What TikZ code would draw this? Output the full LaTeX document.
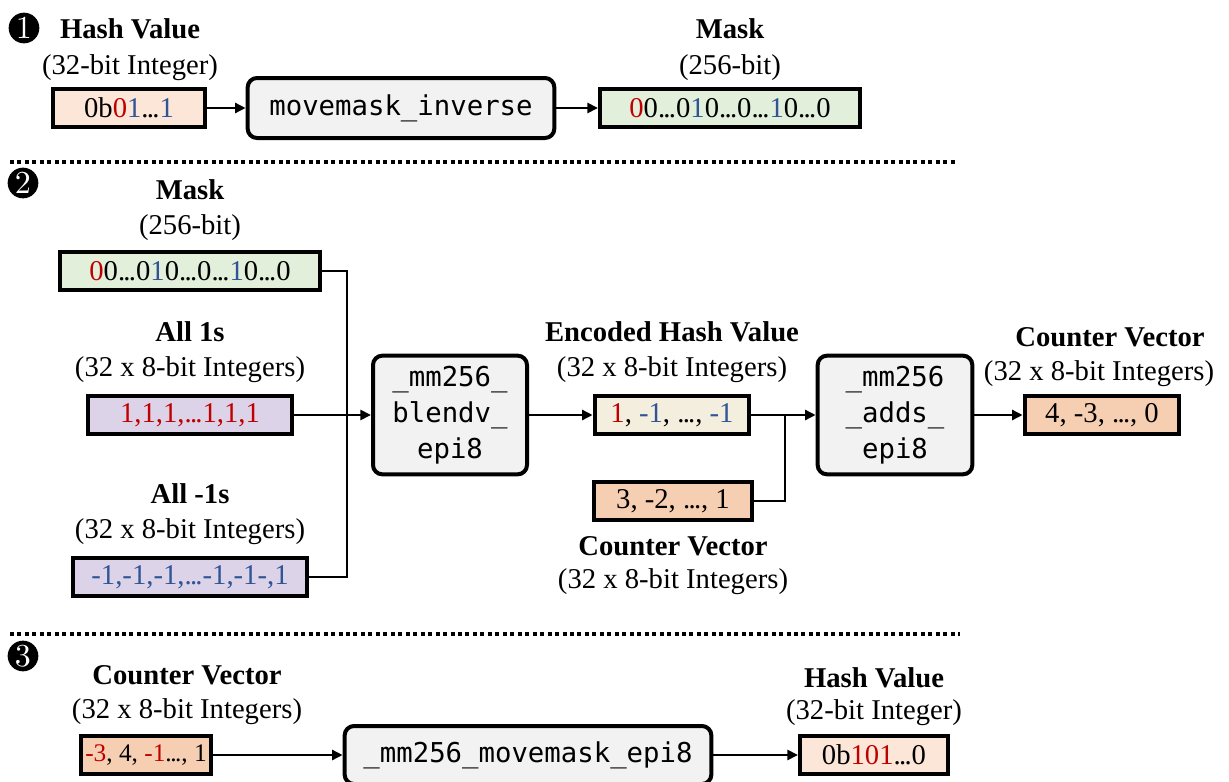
\documentclass[tikz,border=0pt]{standalone}
\usepackage{fontspec}
\setmainfont{Liberation Serif}
\setmonofont{DejaVu Sans Mono}
\newfontfamily\numfont{lmroman10-regular}[Extension=.otf]
\usetikzlibrary{arrows.meta}

\definecolor{bitred}{HTML}{C00000}
\definecolor{bitblue}{HTML}{2F5597}
\definecolor{hashfill}{HTML}{FCE6D8}
\definecolor{maskfill}{HTML}{E2EFDA}
\definecolor{constfill}{HTML}{DDD3E8}
\definecolor{encfill}{HTML}{F3EEDD}
\definecolor{cntfill}{HTML}{F6CFB3}
\definecolor{opfill}{HTML}{F2F2F2}

\newcommand{\rd}[1]{\textcolor{bitred}{#1}}
\newcommand{\bl}[1]{\textcolor{bitblue}{#1}}
% tight ellipsis
\newcommand{\dts}{.\kern-0.06em.\kern-0.06em.}

\tikzset{
    databox/.style={draw, line width=3pt, minimum height=28.5pt, inner sep=0pt, font=\fontsize{21.5}{26}\selectfont},
    hashbox/.style={databox, fill=hashfill},
    maskbox/.style={databox, fill=maskfill},
    constbox/.style={databox, fill=constfill},
    encbox/.style={databox, fill=encfill},
    cntbox/.style={databox, fill=cntfill},
    % SIMD operations
    opbox/.style={draw, line width=3pt, rounded corners=7pt, fill=opfill, align=center, inner sep=0pt, font=\ttfamily\fontsize{20.5}{27}\selectfont},
    % labels above / below the vectors
    heading/.style={font=\bfseries\fontsize{21.5}{26}\selectfont, text height=15pt, text depth=5pt},
    subtitle/.style={font=\fontsize{21.5}{26}\selectfont, text height=15pt, text depth=5pt},
    flow/.style={-{Triangle[length=8pt,width=7.5pt]}, line width=2.2pt},
    wire/.style={line width=2.2pt},
    divider/.style={line width=3pt, dash pattern=on 3pt off 2.6pt},
    stepnum/.style={circle, fill=black, text=white, inner sep=0pt, minimum size=23pt, font=\numfont\fontsize{24}{24}\selectfont}
}

\begin{document}
\begin{tikzpicture}[x=0.75pt, y=-0.75pt]
\useasboundingbox (0,0) rectangle (1229,782);

% Step 1: hash value -> mask
\node[stepnum] (s1) at (24,28) {1};
\node[heading] (hashlbl) at (130,32) {Hash Value};
\node[subtitle] (hashsub) at (130,68) {(32-bit Integer)};
\node[hashbox, minimum width=114pt] (hashin) at (129,108) {0b\rd{0}\bl{1}\dts\bl{1}};
\node[opbox, minimum width=230pt, minimum height=45pt] (movinv) at (401,108) {movemask\_inverse};
\node[heading] (masklbl) at (730,32) {Mask};
\node[subtitle] (masksub) at (730,68) {(256-bit)};
\node[maskbox, minimum width=195pt] (maskout) at (730,108) {\rd{0}0\dts0\bl{1}0\dts0\dts\bl{1}0\dts0};

\draw[flow] (hashin) -- (movinv);
\draw[flow] (movinv) -- (maskout);

\draw[divider] (10,162) -- (955,162);

% Step 2: blend and add
\node[stepnum] (s2) at (23,183) {2};
\node[heading] (mask2lbl) at (190,193) {Mask};
\node[subtitle] (mask2sub) at (190,228) {(256-bit)};
\node[maskbox, minimum width=195pt] (mask2) at (190,271) {\rd{0}0\dts0\bl{1}0\dts0\dts\bl{1}0\dts0};

\node[heading] (oneslbl) at (190,335) {All 1s};
\node[subtitle] (onessub) at (190,370) {(32 x 8-bit Integers)};
\node[constbox, minimum width=153pt] (ones) at (190,415) {\rd{1,1,1,\dts1,1,1}};

\node[heading] (negslbl) at (190,497) {All -1s};
\node[subtitle] (negssub) at (190,532) {(32 x 8-bit Integers)};
\node[constbox, minimum width=175pt] (negones) at (190,577) {\bl{-1,-1,-1,\dts-1,-1-,1}};

\node[opbox, minimum width=115.5pt, minimum height=89pt] (blendv) at (450,415) {\_mm256\_\\blendv\_\\epi8};

\node[heading] (enclbl) at (672,335) {Encoded Hash Value};
\node[subtitle] (encsub) at (672,370) {(32 x 8-bit Integers)};
\node[encbox, minimum width=116pt] (enc) at (672,415) {\rd{1}, \bl{-1}, \dts, \bl{-1}};

\node[cntbox, minimum width=118pt] (cnt) at (673,501) {3, -2, \dts, 1};
\node[heading] (cntlbl) at (673,549) {Counter Vector};
\node[subtitle] (cntsub) at (673,582) {(32 x 8-bit Integers)};

\node[opbox, minimum width=116pt, minimum height=89pt] (adds) at (895,415) {\_mm256\\\_adds\_\\epi8};

\node[heading] (outlbl) at (1110,340) {Counter Vector};
\node[subtitle] (outsub) at (1099,374) {(32 x 8-bit Integers)};
\node[cntbox, minimum width=116pt] (cntout) at (1102,415) {4, -3, \dts, 0};

\coordinate (join) at (347,415);
\coordinate (tap) at (785,415);

\draw[wire] (mask2.east) -| (join) |- (negones.east);
\draw[flow] (ones) -- (blendv);
\draw[flow] (blendv) -- (enc);
\draw[flow] (enc) -- (adds);
\draw[wire] (cnt.east) -| (tap);
\draw[flow] (adds) -- (cntout);

\draw[divider] (10,634) -- (960,634);

% Step 3: counter vector -> hash value
\node[stepnum] (s3) at (23,656) {3};
\node[heading] (cnt3lbl) at (187,678) {Counter Vector};
\node[subtitle] (cnt3sub) at (187,712) {(32 x 8-bit Integers)};
\node[cntbox, minimum width=92pt, inner xsep=3pt, font=\fontsize{19}{24}\selectfont] (cnt3) at (146,755) {\rd{-3}, 4, \rd{-1}\dts, 1};
\node[opbox, minimum width=275pt, minimum height=43.5pt] (movmask) at (528,755) {\_mm256\_movemask\_epi8};
\node[heading] (hash3lbl) at (874,681) {Hash Value};
\node[subtitle] (hash3sub) at (874,713) {(32-bit Integer)};
\node[hashbox, minimum width=111pt] (hashout) at (874,755) {0b\rd{101}\dts0};

\draw[flow] (cnt3) -- (movmask);
\draw[flow] (movmask) -- (hashout);
\end{tikzpicture}
\end{document}
